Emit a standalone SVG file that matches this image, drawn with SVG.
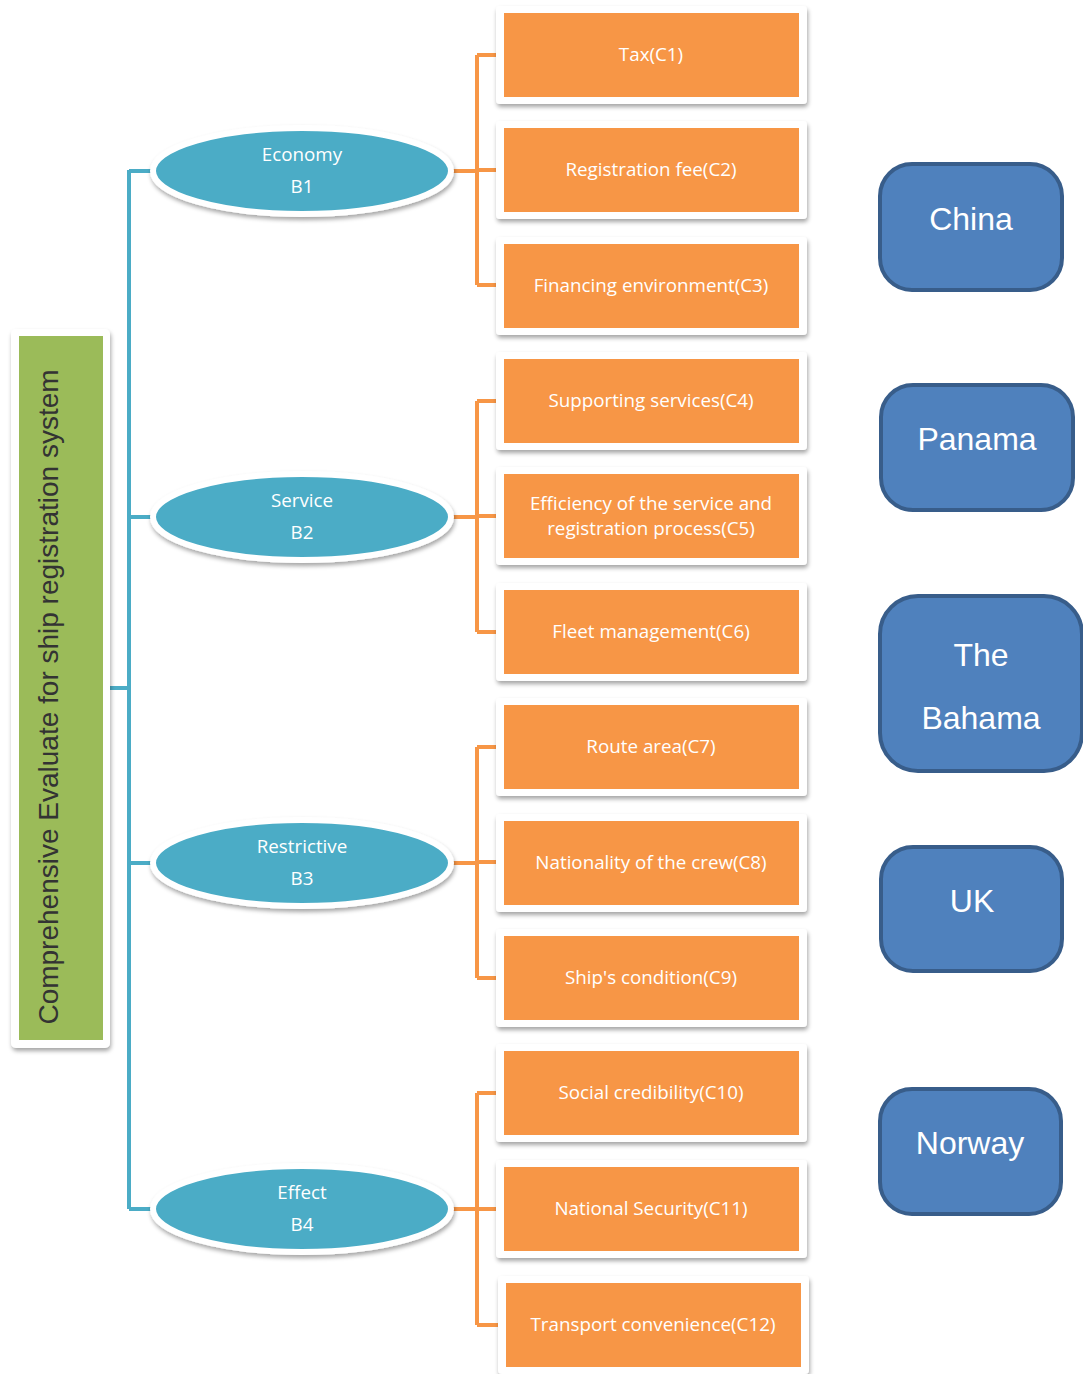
<svg xmlns="http://www.w3.org/2000/svg" width="1083" height="1374" viewBox="0 0 1083 1374">
  <defs>
    <filter id="shadow" x="-10%" y="-10%" width="120%" height="130%">
      <feDropShadow dx="1" dy="3" stdDeviation="2" flood-color="#000" flood-opacity="0.35"/>
    </filter>
    <style>
      .frame { fill: #ffffff; filter: url(#shadow); }
      .crit { fill: #F79646; }
      .crit-label { fill: #ffffff; font-family: "Open Sans", "Liberation Sans", sans-serif; font-size: 18.8px; text-anchor: middle; dominant-baseline: central; }
      .aspect { fill: #4BACC6; stroke: #ffffff; stroke-width: 6; filter: url(#shadow); }
      .aspect-label { fill: #ffffff; font-family: "Open Sans", "Liberation Sans", sans-serif; font-size: 18.8px; text-anchor: middle; dominant-baseline: central; }
      .country { fill: #4F81BD; stroke: #385D8A; stroke-width: 4; }
      .country-label { fill: #ffffff; font-family: "Liberation Sans", Arial, sans-serif; font-size: 32px; text-anchor: middle; dominant-baseline: central; }
      .goal-label { fill: #333333; font-family: "Liberation Sans", Arial, sans-serif; font-size: 28px; text-anchor: middle; dominant-baseline: central; }
      .link-blue { fill: none; stroke: #4BACC6; stroke-width: 4; }
      .link-orange { fill: none; stroke: #F79646; stroke-width: 4; }
    </style>
  </defs>

  <!-- connectors -->
  <g id="connectors">
    <path class="link-blue" d="M110 688 H129 M129 170 V1209 M129 171 H155 M129 517 H155 M129 863 H155 M129 1209 H155"/>
    <path class="link-orange" d="M452 171 H477 M477 55 V285 M477 55 H498 M477 170 H498 M477 285 H498"/>
    <path class="link-orange" d="M452 517 H477 M477 401 V632 M477 401 H498 M477 516 H498 M477 632 H498"/>
    <path class="link-orange" d="M452 863 H477 M477 747 V978 M477 747 H498 M477 862 H498 M477 978 H498"/>
    <path class="link-orange" d="M452 1209 H477 M477 1093 V1325 M477 1093 H498 M477 1209 H498 M477 1325 H500"/>
  </g>

  <!-- goal -->
  <g id="goal">
    <rect class="frame" x="11" y="329" width="99" height="719" rx="5"/>
    <rect x="19" y="336" width="84" height="704" fill="#9BBB59"/>
    <text class="goal-label" transform="translate(48 697) rotate(-90)">Comprehensive Evaluate for ship registration system</text>
  </g>

  <!-- aspects -->
  <g id="b1">
    <ellipse class="aspect" cx="302" cy="171" rx="149" ry="43"/>
    <text class="aspect-label" x="302" y="154">Economy</text>
    <text class="aspect-label" x="302" y="186">B1</text>
  </g>
  <g id="b2">
    <ellipse class="aspect" cx="302" cy="517" rx="149" ry="43"/>
    <text class="aspect-label" x="302" y="500">Service</text>
    <text class="aspect-label" x="302" y="532">B2</text>
  </g>
  <g id="b3">
    <ellipse class="aspect" cx="302" cy="863" rx="149" ry="43"/>
    <text class="aspect-label" x="302" y="846">Restrictive</text>
    <text class="aspect-label" x="302" y="878">B3</text>
  </g>
  <g id="b4">
    <ellipse class="aspect" cx="302" cy="1209" rx="149" ry="43"/>
    <text class="aspect-label" x="302" y="1192">Effect</text>
    <text class="aspect-label" x="302" y="1224">B4</text>
  </g>

  <!-- criteria -->
  <g id="c1">
    <rect class="frame" x="496" y="6" width="311" height="98" rx="4"/>
    <rect class="crit" x="504" y="13" width="295" height="84"/>
    <text class="crit-label" x="651" y="54">Tax(C1)</text>
  </g>
  <g id="c2">
    <rect class="frame" x="496" y="121" width="311" height="98" rx="4"/>
    <rect class="crit" x="504" y="128" width="295" height="84"/>
    <text class="crit-label" x="651" y="169">Registration fee(C2)</text>
  </g>
  <g id="c3">
    <rect class="frame" x="496" y="237" width="311" height="98" rx="4"/>
    <rect class="crit" x="504" y="244" width="295" height="84"/>
    <text class="crit-label" x="651" y="285">Financing environment(C3)</text>
  </g>
  <g id="c4">
    <rect class="frame" x="496" y="352" width="311" height="98" rx="4"/>
    <rect class="crit" x="504" y="359" width="295" height="84"/>
    <text class="crit-label" x="651" y="400">Supporting services(C4)</text>
  </g>
  <g id="c5">
    <rect class="frame" x="496" y="467" width="311" height="98" rx="4"/>
    <rect class="crit" x="504" y="474" width="295" height="84"/>
    <text class="crit-label" x="651" y="503">Efficiency of the service and</text>
    <text class="crit-label" x="651" y="528">registration process(C5)</text>
  </g>
  <g id="c6">
    <rect class="frame" x="496" y="583" width="311" height="98" rx="4"/>
    <rect class="crit" x="504" y="590" width="295" height="84"/>
    <text class="crit-label" x="651" y="631">Fleet management(C6)</text>
  </g>
  <g id="c7">
    <rect class="frame" x="496" y="698" width="311" height="98" rx="4"/>
    <rect class="crit" x="504" y="705" width="295" height="84"/>
    <text class="crit-label" x="651" y="746">Route area(C7)</text>
  </g>
  <g id="c8">
    <rect class="frame" x="496" y="814" width="311" height="98" rx="4"/>
    <rect class="crit" x="504" y="821" width="295" height="84"/>
    <text class="crit-label" x="651" y="862">Nationality of the crew(C8)</text>
  </g>
  <g id="c9">
    <rect class="frame" x="496" y="929" width="311" height="98" rx="4"/>
    <rect class="crit" x="504" y="936" width="295" height="84"/>
    <text class="crit-label" x="651" y="977">Ship's condition(C9)</text>
  </g>
  <g id="c10">
    <rect class="frame" x="496" y="1044" width="311" height="98" rx="4"/>
    <rect class="crit" x="504" y="1051" width="295" height="84"/>
    <text class="crit-label" x="651" y="1092">Social credibility(C10)</text>
  </g>
  <g id="c11">
    <rect class="frame" x="496" y="1160" width="311" height="98" rx="4"/>
    <rect class="crit" x="504" y="1167" width="295" height="84"/>
    <text class="crit-label" x="651" y="1208">National Security(C11)</text>
  </g>
  <g id="c12">
    <rect class="frame" x="498" y="1276" width="311" height="98" rx="4"/>
    <rect class="crit" x="506" y="1283" width="295" height="84"/>
    <text class="crit-label" x="653" y="1324">Transport convenience(C12)</text>
  </g>

  <!-- alternatives -->
  <g id="china">
    <rect class="country" x="880" y="164" width="182" height="126" rx="32"/>
    <text class="country-label" x="971" y="219">China</text>
  </g>
  <g id="panama">
    <rect class="country" x="881" y="385" width="192" height="125" rx="32"/>
    <text class="country-label" x="977" y="439">Panama</text>
  </g>
  <g id="bahama">
    <rect class="country" x="880" y="596" width="202" height="175" rx="38"/>
    <text class="country-label" x="981" y="655">The</text>
    <text class="country-label" x="981" y="718">Bahama</text>
  </g>
  <g id="uk">
    <rect class="country" x="881" y="847" width="181" height="124" rx="32"/>
    <text class="country-label" x="972" y="901">UK</text>
  </g>
  <g id="norway">
    <rect class="country" x="880" y="1089" width="181" height="125" rx="32"/>
    <text class="country-label" x="970" y="1143">Norway</text>
  </g>
</svg>
